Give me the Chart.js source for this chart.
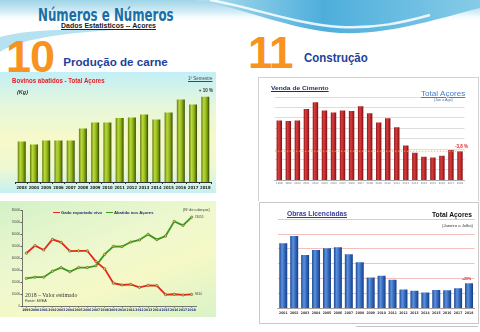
<!DOCTYPE html>
<html lang="pt">
<head>
<meta charset="utf-8">
<title>Números e Números – Dados Estatísticos Açores</title>
<script src="https://cdn.jsdelivr.net/npm/chart.js@4.4.1/dist/chart.umd.min.js"></script>
<style>
  html, body { margin: 0; padding: 0; background: #fff; }
  body { position: relative; width: 480px; height: 332px; overflow: hidden;
         font-family: "Liberation Sans", Arial, sans-serif; }
  .t { position: absolute; white-space: nowrap; line-height: 1; transform-origin: 0 0; }
  .abs { position: absolute; }
  .u { text-decoration: underline; text-underline-offset: 1px; }
</style>
</head>
<body>

<!-- header decoration -->
<svg class="abs" style="left:0;top:0" width="480" height="75" viewBox="0 0 480 75">
  <defs>
    <linearGradient id="skyTop" x1="0" y1="0" x2="0" y2="1">
      <stop offset="0" stop-color="#9fd4e8"/>
      <stop offset="0.55" stop-color="#d4edf6"/>
      <stop offset="1" stop-color="#ffffff" stop-opacity="0"/>
    </linearGradient>
    <linearGradient id="waveBlue" x1="0" y1="0" x2="1" y2="0">
      <stop offset="0" stop-color="#b2e0f0"/>
      <stop offset="0.45" stop-color="#4eaedb"/>
      <stop offset="1" stop-color="#86cbe8"/>
    </linearGradient>
  </defs>
  <rect width="480" height="22" fill="url(#skyTop)"/>
  <path d="M195 0 C245 8 290 30 340 33 C390 35 440 18 480 8 L480 0 Z" fill="url(#waveBlue)"/>
  <path d="M210 0 C255 8 295 24 340 27 C375 29 405 22 430 15" fill="none" stroke="#ffffff" stroke-width="2.5" opacity="0.85"/>
  <path d="M0 52 C12 43 45 34 115 30 C60 28 20 31 0 37 Z" fill="#a9dcee" opacity="0.85"/>
</svg>

<div class="t" data-w="135.6" style="left:37.7px;top:5.2px;font:bold 17.5px 'DejaVu Sans Condensed','DejaVu Sans',sans-serif;color:#1b6ea6">Números e Números</div>
<div class="t u" data-w="95" style="left:61px;top:22.4px;font:bold 6.6px 'Liberation Sans';color:#222">Dados Estatisticos -- Açores</div>

<div class="t" style="left:6px;top:30.5px;font:bold 45px 'Liberation Sans';color:#f7931e;letter-spacing:-1px">10</div>
<div class="t" data-w="104.4" style="left:63.3px;top:54.5px;font:bold 11.6px 'Liberation Sans';color:#1e3f9a">Produção de carne</div>

<div class="t" style="left:248px;top:27.5px;font:bold 44px 'Liberation Sans';color:#f7931e;letter-spacing:-1px">11</div>
<div class="t" data-w="63.7" style="left:304px;top:51.3px;font:bold 12px 'Liberation Sans';color:#1e3f9a">Construção</div>

<!-- panel 10a: bovinos abatidos -->
<div class="abs" style="left:0;top:72px;width:216px;height:121px;background:linear-gradient(180deg,#c2eff6 0%,#e6f7dc 28%,#f7f9c9 55%,#eef8d2 80%,#c6f0f2 100%)"></div>
<canvas id="bovCanvas" class="abs" style="left:0;top:72px" width="216" height="121"></canvas>
<div class="t" data-w="92.6" style="left:11.7px;top:77.4px;font:bold 7px 'Liberation Sans';color:#e21f26">Bovinos abatidos - Total Açores</div>
<div class="t" data-w="11" style="left:16.7px;top:89.4px;font:italic bold 6px 'Liberation Sans';color:#333">(Kg)</div>
<div class="t u" data-w="24.4" style="left:188.3px;top:76.2px;font:4.5px 'Liberation Sans';color:#445">1º Semestre</div>

<!-- panel 10b: gado exportado vs abatido -->
<div class="abs" style="left:0;top:201px;width:216px;height:116px;background:linear-gradient(160deg,#d4f1c6 0%,#eef8cf 42%,#f6f8c6 65%,#d8f3c8 100%)"></div>
<canvas id="gadoCanvas" class="abs" style="left:0;top:201px" width="216" height="116"></canvas>
<div class="abs" style="left:52.7px;top:211.6px;width:7.3px;height:1.5px;background:#e8261d"></div>
<div class="t" data-w="41" style="left:60.7px;top:210.2px;font:bold 4.2px 'Liberation Sans';color:#1d2b70">Gado exportado vivo</div>
<div class="abs" style="left:106px;top:211.6px;width:7.3px;height:1.5px;background:#3b9a1c"></div>
<div class="t" data-w="39.5" style="left:113.8px;top:210.2px;font:bold 4.2px 'Liberation Sans';color:#1d2b70">Abatido nos Açores</div>
<div class="t" data-w="26.7" style="left:183.3px;top:208.3px;font:3.5px 'Liberation Sans';color:#333">(Nº de cabeças)</div>
<div class="t" data-w="52.3" style="left:25px;top:290.5px;font:6.5px 'Liberation Serif',serif;color:#333">2018 – Valor estimado</div>
<div class="t" data-w="21.7" style="left:25px;top:299.2px;font:italic 3.5px 'Liberation Sans';color:#333">Fonte: SREA</div>

<!-- panel 11a: venda de cimento -->
<div class="abs" style="left:258px;top:77px;width:219px;height:123px;border:1px solid #d2d2d2;border-bottom:none;background:#fff"></div>
<canvas id="cimCanvas" class="abs" style="left:258px;top:77px" width="220" height="123"></canvas>
<div class="t u" data-w="57.6" style="left:270.7px;top:84.9px;font:bold 6px 'Liberation Sans';color:#1f2d5c">Venda de Cimento</div>
<div class="t u" data-w="44.3" style="left:420.7px;top:89px;font:7.7px 'Liberation Sans';color:#4a7cc4">Total Açores</div>
<div class="t" data-w="18.7" style="left:434px;top:98px;font:3px 'Liberation Sans';color:#4a6fa8">(Jan a Ago)</div>

<!-- panel 11b: obras licenciadas -->
<div class="abs" style="left:259px;top:202px;width:218px;height:120px;border:1px solid #c8c8c8;background:#fff"></div>
<canvas id="obrasCanvas" class="abs" style="left:259px;top:203px" width="219" height="121"></canvas>
<div class="t u" data-w="60" style="left:286.7px;top:210px;font:bold 6.5px 'Liberation Sans';color:#3a3c9e">Obras Licenciadas</div>
<div class="t" data-w="40" style="left:431.7px;top:210.6px;font:bold 7px 'Liberation Sans';color:#111">Total Açores</div>
<div class="t" data-w="31" style="left:441.7px;top:223.5px;font:3.2px 'Liberation Sans';color:#333">(Janeiro a Julho)</div>

<div class="abs" style="left:356px;top:325.5px;width:122px;height:1px;background:#c4c4c4"></div>

<script>
// ---- data ----
const bovYears = ['2003','2004','2005','2006','2007','2008','2009','2010','2011','2012','2013','2014','2015','2016','2017','2018'];
const bovValues = [8.1, 7.5, 8.3, 8.3, 8.3, 10.7, 11.9, 11.9, 12.8, 12.9, 13.5, 12.5, 13.9, 16.5, 15.5, 17.05];

const gadoYears = ['1999','2000','2001','2002','2003','2004','2005','2006','2007','2008','2009','2010','2011','2012','2013','2014','2015','2016','2017','2018'];
const exportadoVivo = [44000, 50300, 46700, 55500, 53000, 45800, 46000, 46000, 37000, 31000, 19000, 17500, 18000, 15500, 17200, 17000, 9500, 9800, 9200, 9634];
const abatidoAcores = [23000, 24000, 24000, 29000, 32000, 28500, 32000, 32000, 33500, 43000, 49700, 49500, 53300, 55000, 59700, 55300, 58300, 70500, 67200, 74055];
const gadoTicks = [0, 10000, 20000, 30000, 40000, 50000, 60000, 70000, 80000];

const cimentoYears = ['1998','1999','2000','2001','2002','2003','2004','2005','2006','2007','2008','2009','2010','2011','2012','2013','2014','2015','2016','2017','2018'];
const cimentoValues = [115, 114, 115, 137, 150, 134, 130, 134, 133, 142, 129, 111, 119, 102, 67, 53, 45, 44, 47, 58, 55.8];

const obrasYears = ['2001','2002','2003','2004','2005','2006','2007','2008','2009','2010','2011','2012','2013','2014','2015','2016','2017','2018'];
const obrasValues = [2190, 2440, 1800, 1965, 2020, 2055, 1820, 1550, 1035, 1100, 965, 630, 595, 530, 620, 605, 675, 844];

// ---- helpers ----
const NARROW = '"Liberation Sans Narrow", "DejaVu Sans Condensed", "Liberation Sans", sans-serif';
const SANS = '"Liberation Sans", Arial, sans-serif';

function pctChange(arr) {
  const n = arr.length;
  return (arr[n - 1] / arr[n - 2] - 1) * 100;
}
const bovNote = '+ ' + Math.round(pctChange(bovValues)) + ' %';
const cimNote = '-' + Math.abs(pctChange(cimentoValues)).toFixed(1).replace('.', ',') + ' %';
const obrasNote = '+' + Math.round(pctChange(obrasValues)) + '%';

// cylinder-like horizontal shading for each bar
function cylinder(stops, frac) {
  return (c) => {
    const chart = c.chart, area = chart.chartArea;
    if (!area || c.type !== 'data') return stops[1][1];
    const x = chart.scales.x.getPixelForValue(c.dataIndex);
    const w = (area.right - area.left) / chart.data.labels.length * frac;
    const g = chart.ctx.createLinearGradient(x - w / 2, 0, x + w / 2, 0);
    stops.forEach(([o, col]) => g.addColorStop(o, col));
    return g;
  };
}

// text placed above the last bar of a series
function lastBarNote(id, text, font, color, dx, dy) {
  return {
    id,
    afterDatasetsDraw(chart) {
      const bars = chart.getDatasetMeta(0).data;
      const b = bars[bars.length - 1];
      const ctx = chart.ctx;
      ctx.save();
      ctx.font = font; ctx.fillStyle = color;
      ctx.textAlign = 'center'; ctx.textBaseline = 'alphabetic';
      ctx.fillText(text, b.x + dx, b.y + dy);
      ctx.restore();
    }
  };
}

const base = {
  responsive: false,
  animation: false,
  devicePixelRatio: 1,
  plugins: { legend: { display: false }, tooltip: { enabled: false } }
};

// ---- Bovinos abatidos ----
const BOV_FRAC = 0.65;
new Chart(document.getElementById('bovCanvas'), {
  type: 'bar',
  data: { labels: bovYears, datasets: [{
    data: bovValues,
    backgroundColor: cylinder([[0, '#5f7d07'], [0.3, '#bcd83c'], [0.6, '#94b91c'], [0.85, '#5f7d07'], [1, '#2e3b03']], BOV_FRAC),
    borderWidth: 0, barPercentage: BOV_FRAC, categoryPercentage: 1
  }]},
  options: Object.assign({}, base, {
    layout: { padding: { left: 15.6, right: 4.6, top: 20, bottom: 0 } },
    scales: {
      x: {
        grid: { display: true, drawOnChartArea: false, tickLength: 2, color: '#333' },
        border: { color: '#333', width: 1 },
        ticks: { font: { size: 4.2, weight: 'bold', family: NARROW }, color: '#222', padding: 1.2, maxRotation: 0, autoSkip: false },
        afterFit(s) { s.height = 11; }
      },
      y: { display: false, min: 0, max: 18 }
    }
  }),
  plugins: [lastBarNote('bovNote', bovNote, 'bold 4.5px ' + SANS, '#333', 0.6, -5.2)]
});

// ---- Gado exportado vivo / Abatido nos Açores ----
const endLabels = {
  id: 'endLabels',
  afterDatasetsDraw(chart) {
    const ctx = chart.ctx;
    ctx.save();
    ctx.font = '3.2px ' + SANS; ctx.fillStyle = '#444';
    ctx.textAlign = 'left'; ctx.textBaseline = 'middle';
    chart.data.datasets.forEach((ds, i) => {
      const pts = chart.getDatasetMeta(i).data;
      const p = pts[pts.length - 1];
      ctx.fillText(String(ds.data[ds.data.length - 1]), p.x + 3, p.y);
    });
    ctx.restore();
  }
};
const lineStyle = { borderWidth: 1.8, tension: 0, pointRadius: 1.2, pointBackgroundColor: '#d8d43a', pointBorderColor: '#4a4a2a', pointBorderWidth: 0.5 };
new Chart(document.getElementById('gadoCanvas'), {
  type: 'line',
  data: { labels: gadoYears, datasets: [
    Object.assign({ label: 'Gado exportado vivo', data: exportadoVivo, borderColor: '#e8261d' }, lineStyle),
    Object.assign({ label: 'Abatido nos Açores', data: abatidoAcores, borderColor: '#3b9a1c' }, lineStyle)
  ]},
  options: Object.assign({}, base, {
    layout: { padding: { left: 0, right: 20, top: 9, bottom: 0 } },
    scales: {
      x: {
        offset: true,
        grid: { drawOnChartArea: false, tickLength: 1.5, color: '#555' },
        border: { color: '#555', width: 0.8 },
        ticks: { font: { size: 3.3, weight: 'bold', family: NARROW }, color: '#1d2b70', padding: 0.5, maxRotation: 0, autoSkip: false },
        afterFit(s) { s.height = 11; }
      },
      y: {
        min: gadoTicks[0], max: gadoTicks[gadoTicks.length - 1],
        afterBuildTicks(s) { s.ticks = gadoTicks.map(v => ({ value: v })); },
        grid: { drawOnChartArea: false, tickLength: 1.5, color: '#555' },
        border: { color: '#555', width: 0.8 },
        ticks: { font: { size: 3 }, color: '#444', padding: 0.5, callback: v => String(v) },
        afterFit(s) { s.width = 22; }
      }
    }
  }),
  plugins: [endLabels]
});

// ---- Venda de Cimento ----
const CIM_FRAC = 0.6;
const cimentoRef = {
  id: 'cimentoRef',
  afterDatasetsDraw(chart) {
    const { ctx, chartArea: a, scales: { y } } = chart;
    const bars = chart.getDatasetMeta(0).data;
    const last = bars[bars.length - 1];
    const yv = y.getPixelForValue(cimentoValues[cimentoValues.length - 1]);
    ctx.save();
    ctx.strokeStyle = '#f2b705'; ctx.lineWidth = 0.8; ctx.setLineDash([1.5, 1.5]);
    ctx.beginPath(); ctx.moveTo(a.left, yv); ctx.lineTo(a.right, yv); ctx.stroke();
    ctx.setLineDash([]);
    ctx.font = 'bold 4.5px ' + SANS; ctx.fillStyle = '#e0262a';
    ctx.textAlign = 'center'; ctx.textBaseline = 'alphabetic';
    ctx.fillText(cimNote, last.x + 1.5, yv - 3.5);
    ctx.restore();
  }
};
new Chart(document.getElementById('cimCanvas'), {
  type: 'bar',
  data: { labels: cimentoYears, datasets: [{
    data: cimentoValues,
    backgroundColor: cylinder([[0, '#8a1417'], [0.35, '#d93d3c'], [0.6, '#c42b2d'], [1, '#7a1114']], CIM_FRAC),
    borderWidth: 0, barPercentage: CIM_FRAC, categoryPercentage: 1
  }]},
  options: Object.assign({}, base, {
    layout: { padding: { left: 16.8, right: 13.5, top: 20, bottom: 0 } },
    scales: {
      x: {
        grid: { display: false, drawTicks: false },
        border: { color: '#a0a0a0', width: 0.8 },
        ticks: { font: { size: 2.8, family: NARROW }, color: '#777', padding: 1.6, maxRotation: 0, autoSkip: false },
        afterFit(s) { s.height = 19.7; }
      },
      y: {
        min: 0, max: 160,
        ticks: { display: false, stepSize: 20 },
        grid: { color: '#d4d4d4', lineWidth: 0.8, drawTicks: false },
        border: { display: false },
        afterFit(s) { s.width = 0; }
      }
    }
  }),
  plugins: [cimentoRef]
});

// ---- Obras Licenciadas ----
const OBR_FRAC = 0.73;
new Chart(document.getElementById('obrasCanvas'), {
  type: 'bar',
  data: { labels: obrasYears, datasets: [{
    data: obrasValues,
    backgroundColor: cylinder([[0, '#1b4894'], [0.35, '#5c92de'], [0.6, '#3b70c5'], [1, '#163d84']], OBR_FRAC),
    borderWidth: 0, barPercentage: OBR_FRAC, categoryPercentage: 1
  }]},
  options: Object.assign({}, base, {
    layout: { padding: { left: 18.8, right: 3.5, top: 16.3, bottom: 0 } },
    scales: {
      x: {
        grid: { display: false, drawTicks: false },
        border: { color: '#9a9a9a', width: 0.8 },
        ticks: { font: { size: 3.4, weight: 'bold', family: NARROW }, color: '#333', padding: 2.6, maxRotation: 0, autoSkip: false },
        afterFit(s) { s.height = 15.7; }
      },
      y: {
        min: 0, max: 3000,
        ticks: { display: false, stepSize: 500 },
        grid: { color: '#f0b0b0', lineWidth: 0.8, drawTicks: false },
        border: { display: false },
        afterFit(s) { s.width = 0; }
      }
    }
  }),
  plugins: [lastBarNote('obrasNote', obrasNote, 'bold 3.6px ' + SANS, '#e0262a', -2.4, -3)]
});

// fit each caption to its width
document.querySelectorAll('[data-w]').forEach(el => {
  const w = el.getBoundingClientRect().width;
  if (w > 0) el.style.transform = 'scaleX(' + (parseFloat(el.dataset.w) / w).toFixed(3) + ')';
});
</script>
</body>
</html>
